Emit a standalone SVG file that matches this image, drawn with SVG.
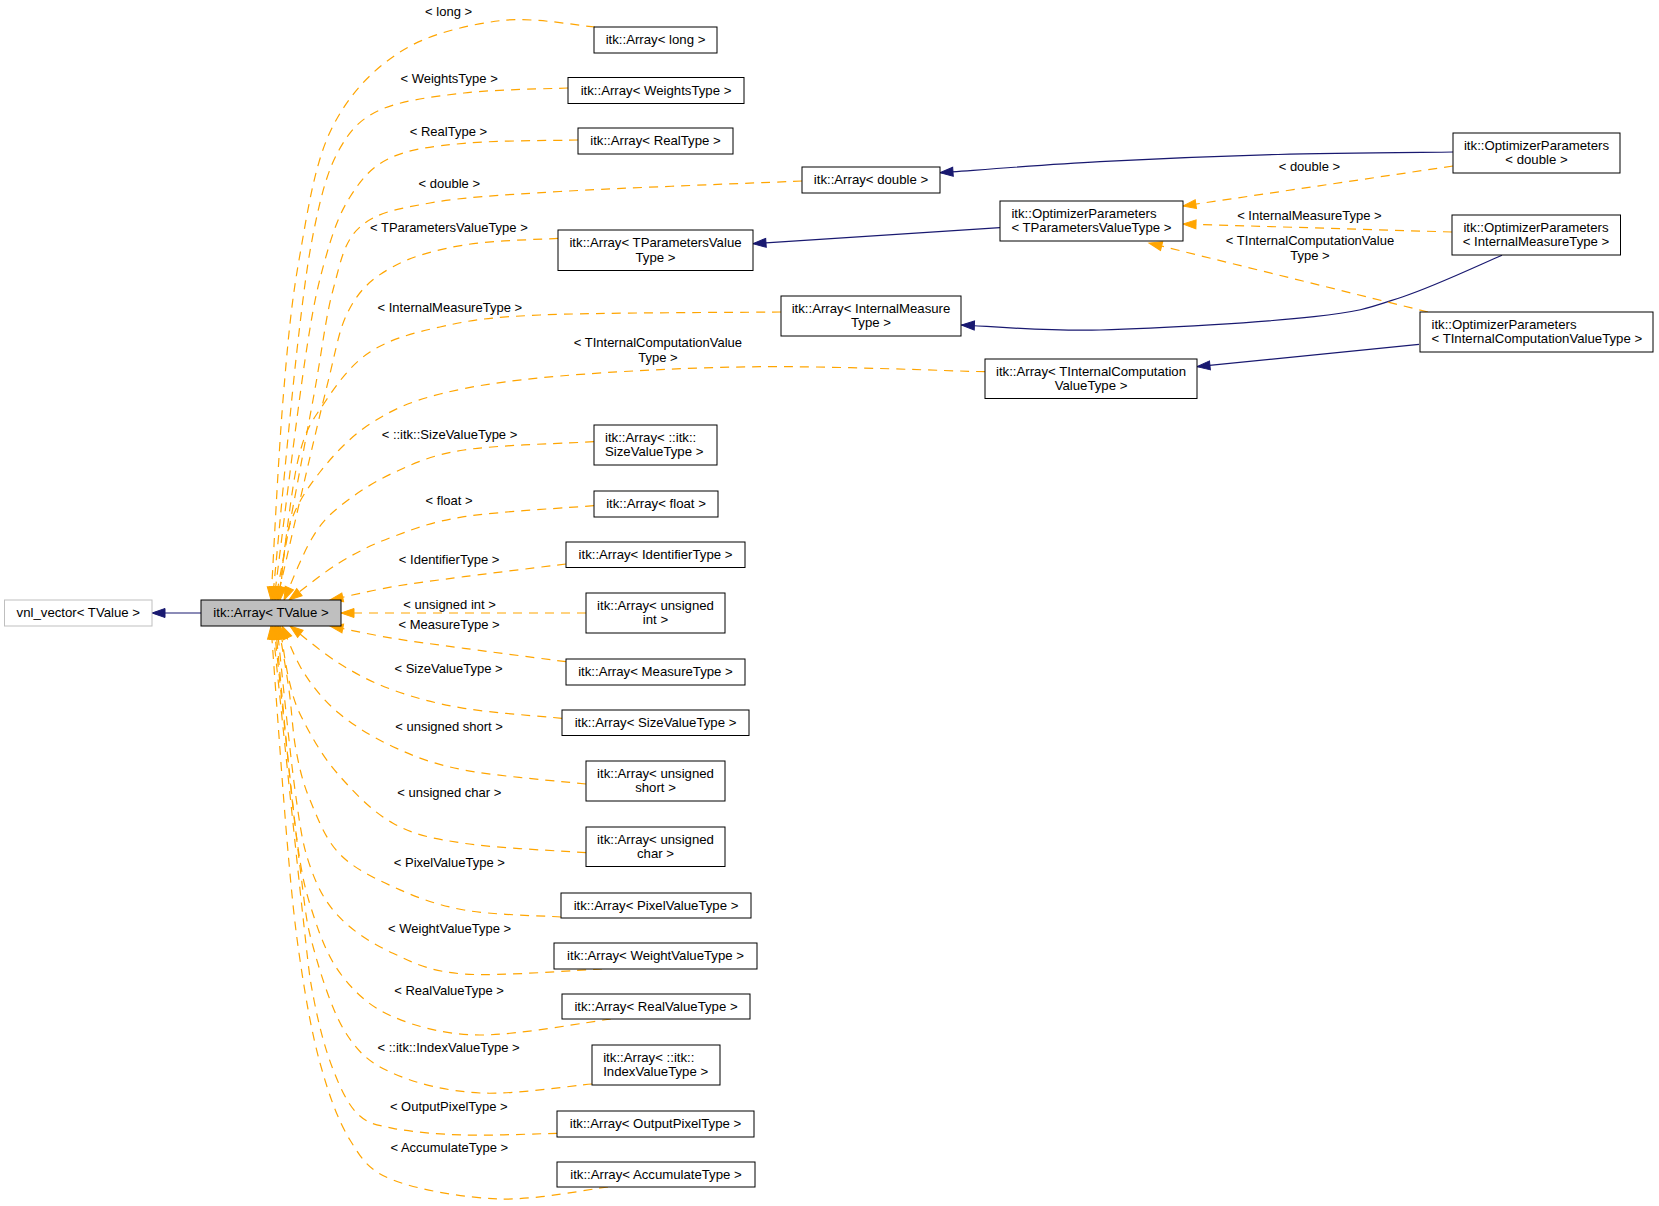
<svg xmlns="http://www.w3.org/2000/svg" width="1659" height="1206" viewBox="0 0 1659 1206">
<style>
text{font-family:"Liberation Sans",Arial,sans-serif;fill:#000}
.nt{font-size:13.2px}
.lb{font-size:13px;text-anchor:middle}
.c{text-anchor:middle}
.l{text-anchor:start}
.box{fill:#fff;stroke:#000;stroke-width:1}
.inh{fill:none;stroke:#191970;stroke-width:1.2}
.tpl{fill:none;stroke:#ffa500;stroke-width:1.2;stroke-dasharray:9,7}
</style>
<defs>
<marker id="ab" markerUnits="userSpaceOnUse" markerWidth="14" markerHeight="10" refX="13" refY="4.5" orient="auto" overflow="visible"><path d="M0,0 L13,4.5 L0,9 z" fill="#191970" stroke="#191970" stroke-width="1"/></marker>
<marker id="ao" markerUnits="userSpaceOnUse" markerWidth="14" markerHeight="10" refX="13" refY="4.5" orient="auto" overflow="visible"><path d="M0,0 L13,4.5 L0,9 z" fill="#ffa500" stroke="#ffa500" stroke-width="1"/></marker>
</defs>
<rect width="1659" height="1206" fill="#fff"/>
<g id="connectors">
<path class="inh" marker-end="url(#ab)" d="M201,613 L152,613"/>
<path class="inh" marker-end="url(#ab)" d="M1453,152 C1423.8,152.4 1336.8,152.9 1278,154.5 C1219.2,156.1 1156.3,158.7 1100,161.7 C1043.7,164.7 966.7,170.9 940,172.7"/>
<path class="inh" marker-end="url(#ab)" d="M1000,227.7 L753,243.7"/>
<path class="inh" marker-end="url(#ab)" d="M1502,255.3 C1485.5,262.2 1434.3,286.5 1403,296.7 C1371.7,306.9 1364.5,311.2 1314,316.7 C1263.5,322.3 1158.8,328.6 1100,330 C1041.2,331.4 984.5,325.8 961.4,325"/>
<path class="inh" marker-end="url(#ab)" d="M1419,344.3 L1197,366.7"/>
<path class="tpl" marker-end="url(#ao)" d="M1453,166 L1183,206"/>
<text class="lb" x="1309.4" y="170.7">&lt; double &gt;</text>
<path class="tpl" marker-end="url(#ao)" d="M1452,232 L1183,224"/>
<text class="lb" x="1309.4" y="220">&lt; InternalMeasureType &gt;</text>
<path class="tpl" marker-end="url(#ao)" d="M1428,312 L1149,243"/>
<text class="lb" x="1310" y="245">&lt; TInternalComputationValue</text>
<text class="lb" x="1310" y="260">Type &gt;</text>
<path class="tpl" marker-end="url(#ao)" d="M595,27 C579.2,26 532.5,16.5 500,20.7 C467.5,24.9 428.2,33.8 400,52 C371.8,70.2 347.8,95.3 331,130 C314.2,164.7 307,215 299,260 C291,305 287.7,343.3 283,400 C278.3,456.7 273,566.7 271,600"/>
<text class="lb" x="448.6" y="15.7">&lt; long &gt;</text>
<path class="tpl" marker-end="url(#ao)" d="M568,88 C550.7,88.8 495.3,89.3 464,93 C432.7,96.7 400.8,100.5 380,110 C359.2,119.5 349.8,130.8 339,150 C328.2,169.2 322,191.7 315,225 C308,258.3 304.1,287.5 297,350 C289.9,412.5 276.6,558.3 272.5,600"/>
<text class="lb" x="449.1" y="83.3">&lt; WeightsType &gt;</text>
<path class="tpl" marker-end="url(#ao)" d="M578,140 C559,140.6 495.3,140.3 464,143.3 C432.7,146.3 409,149.1 390,158 C371,167 360.8,180 350,197 C339.2,214 332.5,232.8 325,260 C317.5,287.2 313.5,303.3 305,360 C296.5,416.7 279.2,560 274,600"/>
<text class="lb" x="448.4" y="135.7">&lt; RealType &gt;</text>
<path class="tpl" marker-end="url(#ao)" d="M802,181 C761.7,182.8 622,187.8 560,191.5 C498,195.2 463.3,197.1 430,203 C396.7,208.9 376.2,212.5 360,227 C343.8,241.5 340.8,261.2 333,290 C325.2,318.8 322.6,348.3 313,400 C303.4,451.7 281.8,566.7 275.5,600"/>
<text class="lb" x="449.3" y="188.3">&lt; double &gt;</text>
<path class="tpl" marker-end="url(#ao)" d="M558,238.3 C542.3,239.4 491.5,240.3 464,245 C436.5,249.7 412,256.2 393,266.7 C374,277.2 361.2,287.4 350,308 C338.8,328.6 338.2,341.3 326,390 C313.8,438.7 285.2,565 277,600"/>
<text class="lb" x="448.9" y="232.3">&lt; TParametersValueType &gt;</text>
<path class="tpl" marker-end="url(#ao)" d="M781,312 C740.8,312.5 596.8,312.5 540,315 C483.2,317.5 468.3,320.8 440,327 C411.7,333.2 389.2,339.5 370,352 C350.8,364.5 337,384 325,402 C313,420 305.8,427 298,460 C290.3,493 281.8,576.7 278.5,600"/>
<text class="lb" x="449.8" y="311.7">&lt; InternalMeasureType &gt;</text>
<path class="tpl" marker-end="url(#ao)" d="M985,371.7 C947.5,370.9 830.8,366 760,366.7 C689.2,367.4 613.3,371.5 560,376 C506.7,380.6 471.7,386 440,394 C408.3,402 390,411 370,424 C350,437 333.5,454.8 320,472 C306.5,489.2 295.7,505.7 289,527 C282.3,548.3 281.5,587.8 280,600"/>
<text class="lb" x="657.9" y="347.3">&lt; TInternalComputationValue</text>
<text class="lb" x="657.9" y="362.3">Type &gt;</text>
<path class="tpl" marker-end="url(#ao)" d="M594,441.7 C572.3,443.1 497.5,444.8 464,450 C430.5,455.2 413.8,463.5 393,473 C372.2,482.5 352.7,495.8 339,507 C325.3,518.2 320.2,524.5 311,540 C301.8,555.5 288.5,590 284,600"/>
<text class="lb" x="449.5" y="439">&lt; ::itk::SizeValueType &gt;</text>
<path class="tpl" marker-end="url(#ao)" d="M594,505.7 C572.3,507.5 497.5,511.5 464,516.7 C430.5,521.9 413.8,529 393,536.7 C372.2,544.4 356.3,552.4 339,563 C321.7,573.6 297.3,593.8 289,600"/>
<text class="lb" x="449.1" y="505">&lt; float &gt;</text>
<path class="tpl" marker-end="url(#ao)" d="M566,564 C549,566.1 492.8,572.9 464,576.7 C435.2,580.5 415.3,582.8 393,586.7 C370.7,590.6 340.5,597.8 330,600"/>
<text class="lb" x="449.1" y="564">&lt; IdentifierType &gt;</text>
<path class="tpl" marker-end="url(#ao)" d="M586,613 L341,613"/>
<text class="lb" x="449.6" y="609">&lt; unsigned int &gt;</text>
<path class="tpl" marker-end="url(#ao)" d="M566,661.7 C549,659.5 492.8,652.2 464,648.3 C435.2,644.4 415.3,642 393,638.3 C370.7,634.6 340.5,628 330,626"/>
<text class="lb" x="449.1" y="629">&lt; MeasureType &gt;</text>
<path class="tpl" marker-end="url(#ao)" d="M562,718.3 C545.7,716.6 492.2,713 464,708.3 C435.8,703.6 413.8,697.5 393,690 C372.2,682.5 356.2,674 339,663.3 C321.8,652.6 298.2,632.2 290,626"/>
<text class="lb" x="448.6" y="672.7">&lt; SizeValueType &gt;</text>
<path class="tpl" marker-end="url(#ao)" d="M586,784 C565.7,781.7 496.2,776.2 464,770 C431.8,763.8 413.8,756.2 393,746.7 C372.2,737.2 353.8,725.6 339,713.3 C324.2,701 313.5,687.6 304,673 C294.5,658.4 285.7,633.8 282,626"/>
<text class="lb" x="449.1" y="730.7">&lt; unsigned short &gt;</text>
<path class="tpl" marker-end="url(#ao)" d="M586,852.7 C565.7,851.1 496.2,848.2 464,843.3 C431.8,838.4 414.2,835 393,823.3 C371.8,811.6 352,790.2 337,773 C322,755.8 311,735.5 303,720 C295,704.5 292.8,695.7 289,680 C285.2,664.3 281.5,635 280,626"/>
<text class="lb" x="449.3" y="796.7">&lt; unsigned char &gt;</text>
<path class="tpl" marker-end="url(#ao)" d="M561,917 C544.8,915.8 492,915.1 464,910 C436,905 413.8,896.2 393,886.7 C372.2,877.3 352.8,867.8 339,853.3 C325.2,838.9 317.2,817.2 310,800 C302.8,782.8 299.5,768.3 296,750 C292.5,731.7 291.9,710.7 289,690 C286.1,669.3 280.3,636.7 278.5,626"/>
<text class="lb" x="449.3" y="866.7">&lt; PixelValueType &gt;</text>
<path class="tpl" marker-end="url(#ao)" d="M602,969 C579,969.8 498.8,976.6 464,974 C429.2,971.4 413.8,962.9 393,953.3 C372.2,943.8 352.8,931.3 339,916.7 C325.2,902.2 317.3,887.1 310,866 C302.7,844.9 300.5,830 295,790 C289.5,750 280,653.3 277,626"/>
<text class="lb" x="449.6" y="932.7">&lt; WeightValueType &gt;</text>
<path class="tpl" marker-end="url(#ao)" d="M611,1019 C589.2,1021.7 516.3,1035.4 480,1035 C443.7,1034.6 415.8,1026.4 393,1016.7 C370.2,1007 356.2,993.6 343,977 C329.8,960.4 321.8,941 314,917 C306.2,893 302.4,881.5 296,833 C289.6,784.5 278.9,660.5 275.5,626"/>
<text class="lb" x="449.1" y="995">&lt; RealValueType &gt;</text>
<path class="tpl" marker-end="url(#ao)" d="M592,1084 C573.3,1085.5 513.2,1094.8 480,1093 C446.8,1091.2 415.3,1083.3 393,1073.3 C370.7,1063.4 359.2,1053.9 346,1033.3 C332.8,1012.7 321.7,977.7 314,950 C306.3,922.3 306.7,921 300,867 C293.3,813 278.3,666.2 274,626"/>
<text class="lb" x="448.6" y="1051.7">&lt; ::itk::IndexValueType &gt;</text>
<path class="tpl" marker-end="url(#ao)" d="M557,1133.3 C541.5,1133.6 491.3,1135.8 464,1135 C436.7,1134.2 410.8,1131.9 393,1128.3 C375.2,1124.7 367.2,1123.6 357,1113.3 C346.8,1103 339.2,1085.6 332,1066.7 C324.8,1047.8 318.8,1025 314,1000 C309.2,975 309.9,979.3 303,917 C296.1,854.7 277.6,674.5 272.5,626"/>
<text class="lb" x="448.8" y="1110.7">&lt; OutputPixelType &gt;</text>
<path class="tpl" marker-end="url(#ao)" d="M608,1187 C590,1189 535.8,1200.2 500,1199 C464.2,1197.8 418,1189.8 393,1180 C368,1170.2 362.2,1159.5 350,1140 C337.8,1120.5 328.3,1093 320,1063 C311.7,1033 305.5,997.2 300,960 C294.5,922.8 291.8,895.7 287,840 C282.2,784.3 273.7,661.7 271,626"/>
<text class="lb" x="449.3" y="1151.7">&lt; AccumulateType &gt;</text>
</g>
<g id="node-vnl_vector"><rect class="box" x="4.5" y="600" width="147.5" height="26" style="stroke:#bfbfbf"/><text class="nt c" x="78.3" y="617">vnl_vector&lt; TValue &gt;</text></g>
<g id="node-Array_TValue"><rect class="box" x="201" y="600" width="140" height="26" style="fill:#bfbfbf"/><text class="nt c" x="271" y="617">itk::Array&lt; TValue &gt;</text></g>
<g id="node-Array_long"><rect class="box" x="594" y="27" width="123" height="26"/><text class="nt c" x="655.5" y="44">itk::Array&lt; long &gt;</text></g>
<g id="node-Array_WeightsType"><rect class="box" x="568" y="77.5" width="176" height="26"/><text class="nt c" x="656" y="94.5">itk::Array&lt; WeightsType &gt;</text></g>
<g id="node-Array_RealType"><rect class="box" x="578" y="128" width="155" height="26"/><text class="nt c" x="655.5" y="145">itk::Array&lt; RealType &gt;</text></g>
<g id="node-Array_double"><rect class="box" x="802" y="167" width="138" height="26"/><text class="nt c" x="871" y="184">itk::Array&lt; double &gt;</text></g>
<g id="node-Array_TParametersValueType"><rect class="box" x="558" y="230" width="195" height="40.5"/><text class="nt c" x="655.5" y="247.3">itk::Array&lt; TParametersValue</text><text class="nt c" x="655.5" y="261.7">Type &gt;</text></g>
<g id="node-Array_InternalMeasureType"><rect class="box" x="781" y="296" width="180" height="40"/><text class="nt c" x="871" y="312.8">itk::Array&lt; InternalMeasure</text><text class="nt c" x="871" y="327.2">Type &gt;</text></g>
<g id="node-Array_TInternalComputationValueType"><rect class="box" x="985" y="359" width="212" height="39.5"/><text class="nt c" x="1091" y="375.5">itk::Array&lt; TInternalComputation</text><text class="nt c" x="1091" y="389.9">ValueType &gt;</text></g>
<g id="node-OP_TParametersValueType"><rect class="box" x="1000" y="201" width="183" height="40"/><text class="nt l" x="1011.4" y="217.8">itk::OptimizerParameters</text><text class="nt l" x="1011.4" y="232.2">&lt; TParametersValueType &gt;</text></g>
<g id="node-OP_double"><rect class="box" x="1453" y="133" width="167" height="40"/><text class="nt c" x="1536.5" y="149.8">itk::OptimizerParameters</text><text class="nt c" x="1536.5" y="164.2">&lt; double &gt;</text></g>
<g id="node-OP_InternalMeasureType"><rect class="box" x="1452" y="215" width="168.5" height="40"/><text class="nt c" x="1536" y="231.8">itk::OptimizerParameters</text><text class="nt c" x="1536" y="246.2">&lt; InternalMeasureType &gt;</text></g>
<g id="node-OP_TInternalComputationValueType"><rect class="box" x="1420" y="312" width="233" height="40"/><text class="nt l" x="1431.5" y="328.8">itk::OptimizerParameters</text><text class="nt l" x="1431.5" y="343.2">&lt; TInternalComputationValueType &gt;</text></g>
<g id="node-Array_itkSizeValueType"><rect class="box" x="594" y="425" width="123" height="40"/><text class="nt l" x="605" y="441.8">itk::Array&lt; ::itk::</text><text class="nt l" x="605" y="456.2">SizeValueType &gt;</text></g>
<g id="node-Array_float"><rect class="box" x="594" y="491" width="124" height="26"/><text class="nt c" x="656" y="508">itk::Array&lt; float &gt;</text></g>
<g id="node-Array_IdentifierType"><rect class="box" x="566" y="542" width="179" height="25.5"/><text class="nt c" x="655.5" y="558.7">itk::Array&lt; IdentifierType &gt;</text></g>
<g id="node-Array_unsigned_int"><rect class="box" x="586" y="593" width="139" height="40"/><text class="nt c" x="655.5" y="609.8">itk::Array&lt; unsigned</text><text class="nt c" x="655.5" y="624.2">int &gt;</text></g>
<g id="node-Array_MeasureType"><rect class="box" x="566" y="659" width="179" height="26"/><text class="nt c" x="655.5" y="676">itk::Array&lt; MeasureType &gt;</text></g>
<g id="node-Array_SizeValueType"><rect class="box" x="562" y="710" width="187" height="25.5"/><text class="nt c" x="655.5" y="726.7">itk::Array&lt; SizeValueType &gt;</text></g>
<g id="node-Array_unsigned_short"><rect class="box" x="586" y="761" width="139" height="40"/><text class="nt c" x="655.5" y="777.8">itk::Array&lt; unsigned</text><text class="nt c" x="655.5" y="792.2">short &gt;</text></g>
<g id="node-Array_unsigned_char"><rect class="box" x="586" y="827" width="139" height="39.5"/><text class="nt c" x="655.5" y="843.5">itk::Array&lt; unsigned</text><text class="nt c" x="655.5" y="857.9">char &gt;</text></g>
<g id="node-Array_PixelValueType"><rect class="box" x="561" y="893" width="190" height="25"/><text class="nt c" x="656" y="909.5">itk::Array&lt; PixelValueType &gt;</text></g>
<g id="node-Array_WeightValueType"><rect class="box" x="554" y="943" width="203" height="26"/><text class="nt c" x="655.5" y="960">itk::Array&lt; WeightValueType &gt;</text></g>
<g id="node-Array_RealValueType"><rect class="box" x="562" y="994" width="188" height="25"/><text class="nt c" x="656" y="1010.5">itk::Array&lt; RealValueType &gt;</text></g>
<g id="node-Array_itkIndexValueType"><rect class="box" x="592" y="1045" width="128" height="40"/><text class="nt l" x="603.2" y="1061.8">itk::Array&lt; ::itk::</text><text class="nt l" x="603.2" y="1076.2">IndexValueType &gt;</text></g>
<g id="node-Array_OutputPixelType"><rect class="box" x="557" y="1111" width="197" height="26"/><text class="nt c" x="655.5" y="1128">itk::Array&lt; OutputPixelType &gt;</text></g>
<g id="node-Array_AccumulateType"><rect class="box" x="557" y="1162" width="198" height="25"/><text class="nt c" x="656" y="1178.5">itk::Array&lt; AccumulateType &gt;</text></g>
</svg>
